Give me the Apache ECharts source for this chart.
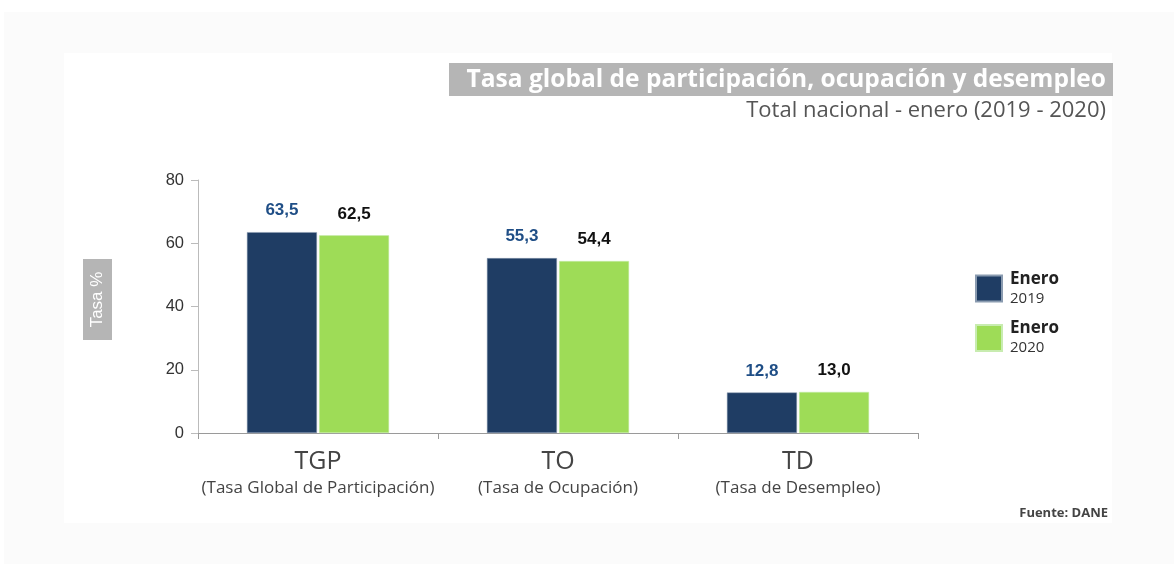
<!DOCTYPE html>
<html>
<head>
<meta charset="utf-8">
<script src="https://cdn.jsdelivr.net/npm/echarts@6/dist/echarts.min.js"></script>
<style>
html,body{margin:0;padding:0;background:#fff;}
#main{width:1174px;height:566px;}
</style>
</head>
<body>
<div id="main"></div>
<script>
const categories = ['TGP', 'TO', 'TD'];
const categoryNames = ['(Tasa Global de Participación)', '(Tasa de Ocupación)', '(Tasa de Desempleo)'];
const seriesNames = ['Enero\n2019', 'Enero\n2020'];
const values2019 = [63.5, 55.3, 12.8];
const values2020 = [62.5, 54.4, 13.0];
const yTicks = [0, 20, 40, 60, 80];

const chart = echarts.init(document.getElementById('main'), null, {renderer: 'canvas'});
const fmt = p => p.value.toFixed(1).replace('.', ',');

const option = {
  backgroundColor: '#ffffff',
  animation: false,
  graphic: [
    {type: 'rect', z: -10, shape: {x: 4, y: 12, width: 1170, height: 552}, style: {fill: '#fbfbfb'}},
    {type: 'rect', z: -9, shape: {x: 64, y: 53, width: 1048, height: 470}, style: {fill: '#ffffff'}},
    {type: 'rect', shape: {x: 449, y: 63, width: 664, height: 33}, style: {fill: '#b5b5b5'}},
    {type: 'text', x: 1106, y: 80, style: {text: 'Tasa global de participación, ocupación y desempleo', fill: '#ffffff', font: 'bold 24.5px "Open Sans"', align: 'right', verticalAlign: 'middle'}},
    {type: 'text', x: 1106, y: 111, style: {text: 'Total nacional - enero (2019 - 2020)', fill: '#555555', font: '22px "Open Sans"', align: 'right', verticalAlign: 'middle'}},
    {type: 'rect', shape: {x: 83, y: 259, width: 29, height: 81}, style: {fill: '#b5b5b5'}},
    {type: 'text', x: 97.5, y: 299.5, rotation: Math.PI / 2, style: {text: 'Tasa %', fill: '#ffffff', font: '17px "Liberation Sans"', align: 'center', verticalAlign: 'middle'}},
    {type: 'text', x: 1108, y: 513, style: {text: 'Fuente: DANE', fill: '#444444', font: 'bold 13px "Open Sans"', align: 'right', verticalAlign: 'middle'}}
  ],
  legend: {
    orient: 'vertical',
    left: 975,
    top: 270.5,
    padding: 0,
    itemWidth: 26,
    itemHeight: 26,
    itemGap: 14,
    icon: 'rect',
    data: seriesNames,
    formatter: name => {
      const parts = name.split('\n');
      return '{a|' + parts[0] + '}\n{b|' + parts[1] + '}';
    },
    textStyle: {
      padding: [0, 0, 0, 3],
      rich: {
        a: {fontFamily: '"Open Sans"', fontWeight: 'bold', fontSize: 17, color: '#222', lineHeight: 20},
        b: {fontFamily: '"Open Sans"', fontSize: 15, color: '#333', lineHeight: 19}
      }
    }
  },
  grid: {left: 198, right: 256, top: 180, bottom: 133, containLabel: false},
  xAxis: {
    type: 'category',
    data: categories,
    axisLine: {lineStyle: {color: '#9a9a9a', width: 1}},
    axisTick: {show: true, length: 6, lineStyle: {color: '#9a9a9a'}},
    axisLabel: {
      margin: 15,
      formatter: (v, i) => '{a|' + v + '}\n{b|' + categoryNames[i] + '}',
      rich: {
        a: {fontFamily: '"Open Sans"', fontSize: 25, color: '#444', lineHeight: 28},
        b: {fontFamily: '"Open Sans"', fontSize: 17, color: '#444', lineHeight: 24}
      }
    }
  },
  yAxis: {
    type: 'value',
    min: yTicks[0],
    max: yTicks[yTicks.length - 1],
    interval: 20,
    axisLine: {show: true, lineStyle: {color: '#bbbbbb'}},
    axisTick: {show: true, length: 7, lineStyle: {color: '#bbbbbb'}},
    splitLine: {show: false},
    axisLabel: {margin: 14, fontFamily: '"Liberation Sans"', fontSize: 16.5, color: '#333'}
  },
  series: [
    {
      name: seriesNames[0],
      type: 'bar',
      data: values2019,
      barWidth: 70,
      barGap: '3%',
      itemStyle: {color: '#1f3d64', borderColor: '#8a9bb0', borderWidth: 0.5},
      label: {show: true, position: 'top', distance: 13, formatter: fmt, fontFamily: '"Liberation Sans"', fontWeight: 'bold', fontSize: 17, color: '#1f4e86'}
    },
    {
      name: seriesNames[1],
      type: 'bar',
      data: values2020,
      barWidth: 70,
      barGap: '3%',
      itemStyle: {color: '#9edc57', borderColor: '#c8ecb0', borderWidth: 0.5},
      label: {show: true, position: 'top', distance: 13, formatter: fmt, fontFamily: '"Liberation Sans"', fontWeight: 'bold', fontSize: 17, color: '#111'}
    }
  ]
};
chart.setOption(option);
</script>
</body>
</html>
